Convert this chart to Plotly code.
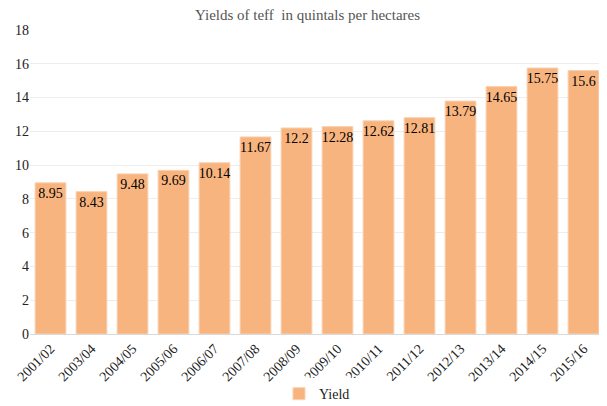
import plotly.graph_objects as go

# seasons and teff yields (quintals per hectare)
seasons = ['2001/02', '2003/04', '2004/05', '2005/06', '2006/07', '2007/08', '2008/09',
           '2009/10', '2010/11', '2011/12', '2012/13', '2013/14', '2014/15', '2015/16']
yields = [8.95, 8.43, 9.48, 9.69, 10.14, 11.67, 12.2, 12.28, 12.62, 12.81, 13.79, 14.65, 15.75, 15.6]

serif = 'Liberation Serif, Times New Roman, serif'

fig = go.Figure(go.Bar(
    x=seasons,
    y=yields,
    name='Yield',
    marker=dict(color='#F8B47E', line=dict(color='#FAD1B0', width=1)),
    text=[str(v) for v in yields],
    textposition='inside',
    insidetextanchor='end',
    textangle=0,
    textfont=dict(family=serif, size=14, color='black'),
    showlegend=True,
))

# page body adds an 8px margin, so the figure is sized to fit the window
fig.update_layout(
    width=599, height=398,
    margin=dict(l=22, r=3, t=22, b=72, autoexpand=False),
    paper_bgcolor='white', plot_bgcolor='white',
    bargap=0.25,
    font=dict(family=serif, size=14, color='#222222'),
    title=dict(text='Yields of teff  in quintals per hectares', x=0.5, xanchor='center',
               y=1.0, yanchor='top', pad=dict(t=1),
               font=dict(family=serif, size=15, color='#555555')),
    legend=dict(orientation='h', x=0.5, xanchor='center', y=-0.145, yanchor='top',
                font=dict(family=serif, size=14, color='#222222')),
    uniformtext=dict(minsize=14, mode='show'),
)
fig.update_xaxes(tickangle=-45, showgrid=False, showline=True, linecolor='#D9D9D9',
                 ticks='', automargin=False,
                 tickfont=dict(family=serif, size=14, color='#222222'))
fig.update_yaxes(range=[0, 18], dtick=2, showgrid=True, gridcolor='#EDEDED', zeroline=False,
                 showline=False, ticks='', automargin=False,
                 tickfont=dict(family=serif, size=14, color='#222222'))

fig.write_html('out.html')
